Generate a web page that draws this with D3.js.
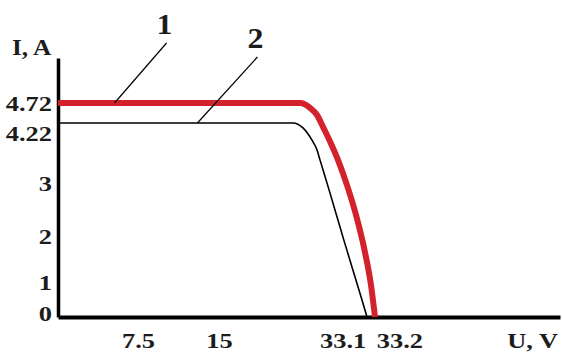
<!DOCTYPE html>
<html>
<head>
<meta charset="utf-8">
<script src="https://cdn.jsdelivr.net/npm/d3@7"></script>
<style>
  html, body { margin: 0; padding: 0; background: #fff; }
  #chartSvg text { font-family: "Liberation Serif", "Times New Roman", serif; font-weight: bold; fill: #1c1c1c; }
</style>
</head>
<body>
<div id="chartSvg"></div>
<script>
const kSvgWidth = 562;
const kSvgHeight = 354;

// tick labels
const xTicks = [7.5, 15, 33.1, 33.2];
const yTicks = [0, 1, 2, 3, 4.22, 4.72];
const xTitle = "U, V";
const yTitle = "I, A";

// curve 1 (red, thick)
const curve1U = [0, 24.91, 26.13, 26.99, 27.72, 28.51, 29.55, 30.65, 31.75, 32.79, 33.15, 33.2];
const curve1I = [4.72, 4.72, 4.6, 4.42, 4.14, 3.87, 3.47, 2.96, 2.4, 1.7, 0.91, 0];

// curve 2 (black, thin)
const curve2U = [0, 24.05, 25.27, 26.37, 26.99, 27.35, 28.46, 30.27, 32.48, 33.1];
const curve2I = [4.22, 4.22, 4.12, 3.87, 3.67, 3.47, 2.87, 1.91, 0.49, 0];

// curve numbers and where their leader lines touch the curves
const curveNames = ["1", "2"];
const leaderU = [5.3, 13.0];
const leaderI = [4.72, 4.22];

function createSvg()
{
  return d3.select("#chartSvg")
    .append("svg")
    .attr("width", kSvgWidth)
    .attr("height", kSvgHeight)
    .style("display", "block");
}

function drawChart(svg)
{
  // the drawing is hand-scaled, so both scales are piecewise
  const xScale = d3.scaleLinear()
    .domain([0, 7.5, 15, 33.1, 33.2, 36])
    .range([58, 138, 219, 367, 375, 560]);

  const yScale = d3.scaleLinear()
    .domain([0, 1, 2, 3, 4.22, 4.72, 5.85])
    .range([317, 282, 236, 183, 123, 103, 58]);

  const fontSize = 22;
  const stretch = 1.2;

  // x axis
  const xAxis = d3.axisBottom(xScale)
    .tickValues(xTicks)
    .tickSize(0)
    .tickSizeOuter(0)
    .tickPadding(15)
    .tickFormat(d => String(d));

  const gx = svg.append("g")
    .attr("id", "x-axis")
    .attr("transform", `translate(0, ${yScale(0)})`)
    .call(xAxis);

  gx.select(".domain").attr("stroke", "#000").attr("stroke-width", 4);

  // spread labels that would overlap
  const xPos = xTicks.map(v => xScale(v));
  const xWidth = xTicks.map(v => String(v).length * 0.5 * fontSize * stretch);
  const xShift = xTicks.map(() => 0);
  for (let i = 1; i < xTicks.length; i++) {
    const need = (xWidth[i - 1] + xWidth[i]) / 2 + 4;
    const gap = xPos[i] - xPos[i - 1];
    if (gap < need) {
      xShift[i - 1] -= (need - gap) / 2;
      xShift[i] += (need - gap) / 2;
    }
  }
  gx.selectAll(".tick text").each(function(d, i) {
    d3.select(this)
      .attr("font-size", fontSize)
      .attr("fill", "#1c1c1c")
      .attr("transform", `translate(${xShift[i]}, 0) scale(${stretch}, 1)`);
  });

  // y axis
  const yAxis = d3.axisLeft(yScale)
    .tickValues(yTicks)
    .tickSize(0)
    .tickSizeOuter(0)
    .tickPadding(5)
    .tickFormat(d => String(d));

  const gy = svg.append("g")
    .attr("id", "y-axis")
    .attr("transform", `translate(${xScale(0)}, 0)`)
    .call(yAxis);

  gy.select(".domain").attr("stroke", "#000").attr("stroke-width", 3.5);

  const yPos = yTicks.map(v => yScale(v));
  const yShift = yTicks.map(() => 0);
  yShift[0] = -4; // keep the origin label clear of the x axis
  for (let i = yTicks.length - 1; i > 0; i--) {
    const gap = yPos[i - 1] + yShift[i - 1] - (yPos[i] + yShift[i]);
    if (gap < 30) yShift[i - 1] += 30 - gap;
  }
  gy.selectAll(".tick text").each(function(d, i) {
    d3.select(this)
      .attr("font-size", fontSize)
      .attr("fill", "#1c1c1c")
      .attr("transform", `translate(0, ${yShift[i]}) scale(${stretch}, 1)`);
  });

  // axis titles
  svg.append("text")
    .attr("transform", `translate(12, 55) scale(1.1, 1)`)
    .attr("font-size", 23)
    .text(yTitle);

  svg.append("text")
    .attr("transform", `translate(${kSvgWidth - 4}, 348) scale(${stretch}, 1)`)
    .attr("text-anchor", "end")
    .attr("font-size", fontSize)
    .text(xTitle);

  // curves
  const line = d3.line()
    .x(d => xScale(d[0]))
    .y(d => yScale(d[1]))
    .curve(d3.curveMonotoneX);

  svg.append("path")
    .datum(curve2U.map((u, i) => [u, curve2I[i]]))
    .attr("fill", "none")
    .attr("stroke", "#000")
    .attr("stroke-width", 1.6)
    .attr("stroke-linejoin", "round")
    .attr("d", line);

  svg.append("path")
    .datum(curve1U.map((u, i) => [u, curve1I[i]]))
    .attr("fill", "none")
    .attr("stroke", "#d3222c")
    .attr("stroke-width", 6)
    .attr("stroke-linejoin", "round")
    .attr("d", line);

  // leader lines with curve numbers
  const leaderOffset = [[52, -60], [60, -66]];
  curveNames.forEach((name, i) => {
    const x0 = xScale(leaderU[i]);
    const y0 = yScale(leaderI[i]);
    const x1 = x0 + leaderOffset[i][0];
    const y1 = y0 + leaderOffset[i][1];

    svg.append("line")
      .attr("x1", x0).attr("y1", y0)
      .attr("x2", x1).attr("y2", y1)
      .attr("stroke", "#000")
      .attr("stroke-width", 1.2);

    svg.append("text")
      .attr("transform", `translate(${x1 - 2}, ${y1 - 9}) scale(1.1, 1)`)
      .attr("text-anchor", "middle")
      .attr("font-size", 29)
      .text(name);
  });
}

document.addEventListener("DOMContentLoaded", () => {
  const svg = createSvg();
  drawChart(svg);
});
</script>
</body>
</html>
